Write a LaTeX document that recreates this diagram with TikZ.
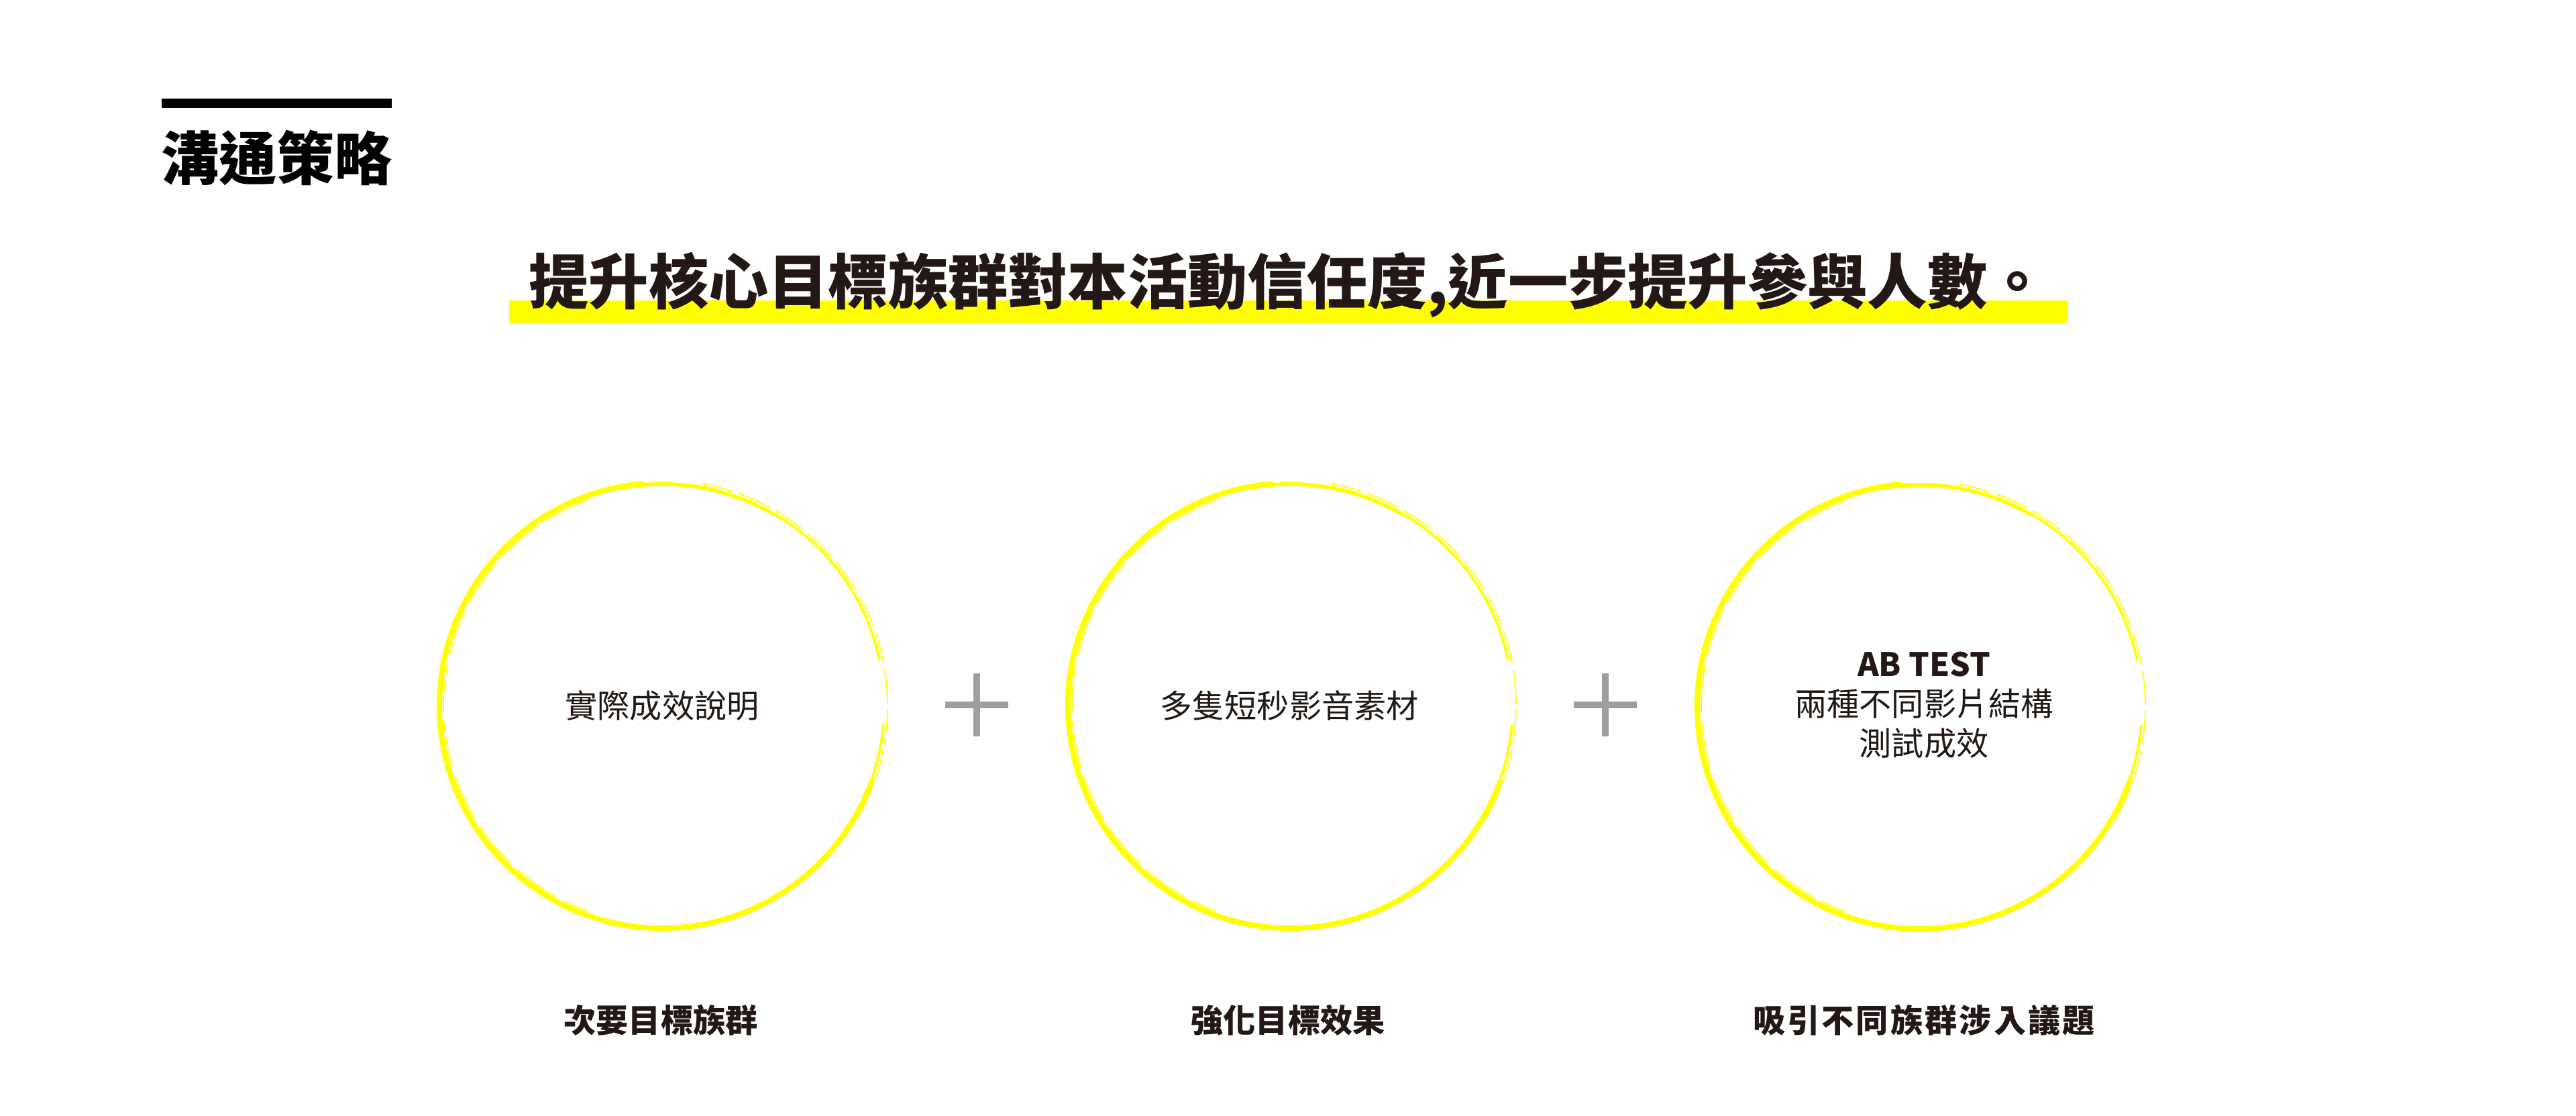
\documentclass[tikz,border=0pt]{standalone}
\usepackage{fontspec}
\usepackage{xcolor}
\usepackage{tikz}
\setmainfont{Noto Sans CJK TC}
\newfontfamily\cjkwide[LetterSpace=6.5]{Noto Sans CJK TC}
\definecolor{inkdark}{RGB}{35,24,21}
\definecolor{markyellow}{RGB}{255,255,0}
\definecolor{plusgray}{RGB}{158,158,158}
\tikzset{
  sectiontitle/.style={font=\fontsize{24.5pt}{29pt}\selectfont\bfseries,text=black,inner sep=0pt},
  slogan/.style={font=\fontsize{25.4pt}{30pt}\selectfont\bfseries,text=inkdark,inner sep=0pt},
  goal/.style={font=\fontsize{13.7pt}{16.8pt}\selectfont,text=inkdark,inner sep=0pt,align=center},
  caption/.style={font=\fontsize{13.7pt}{16.8pt}\selectfont\bfseries,text=inkdark,inner sep=0pt},
  ringline/.style={draw=markyellow,line cap=round},
  brushring/.pic={
    \draw[ringline,line width=1.1pt] (12:3.31) arc[start angle=12,end angle=355,radius=3.31];
    \draw[ringline,line width=2.3pt] (95:3.32) arc[start angle=95,end angle=340,radius=3.32];
    \draw[ringline,line width=1.5pt] (60:3.30) arc[start angle=60,end angle=100,radius=3.30];
    \draw[ringline,line width=0.5pt,dash pattern=on 14pt off 3pt] (-30:3.36) arc[start angle=-30,end angle=80,radius=3.36];
    \draw[ringline,line width=0.5pt,dash pattern=on 20pt off 4pt] (110:3.26) arc[start angle=110,end angle=250,radius=3.26];
  },
  plussign/.pic={
    \fill[plusgray] (-0.47,-0.05) rectangle (0.47,0.05);
    \fill[plusgray] (-0.05,-0.47) rectangle (0.05,0.47);
  }
}

\begin{document}
\begin{tikzpicture}
  \useasboundingbox (0,0) rectangle (38.4,-16.64);
  \fill[white] (0,0) rectangle (38.4,-16.64);

  \fill[black] (2.41,-1.47) rectangle (5.84,-1.61);
  \node[sectiontitle] (title) at (4.125,-2.35) {溝通策略};

  \fill[markyellow] (7.59,-4.48) rectangle (30.83,-4.82);
  \node[slogan] (aim) at (19.20,-4.25) {提升核心目標族群對本活動信任度,近一步提升參與人數。};

  \node[goal] (c1) at (9.87,-10.52) {實際成效說明};
  \node[goal] (c2) at (19.22,-10.52) {多隻短秒影音素材};
  \node[goal] (c3) at (28.68,-10.51) {{\bfseries AB TEST}\\兩種不同影片結構\\測試成效};

  \pic at (9.87,-10.52) {brushring};
  \pic at (19.24,-10.52) {brushring};
  \pic at (28.62,-10.53) {brushring};

  \pic at (14.555,-10.51) {plussign};
  \pic at (23.93,-10.51) {plussign};

  \node[caption] (l1) at (9.85,-15.21) {次要目標族群};
  \node[caption] (l2) at (19.20,-15.21) {強化目標效果};
  \node[caption] (l3) at (28.68,-15.21) {\cjkwide 吸引不同族群涉入議題};
\end{tikzpicture}
\end{document}
